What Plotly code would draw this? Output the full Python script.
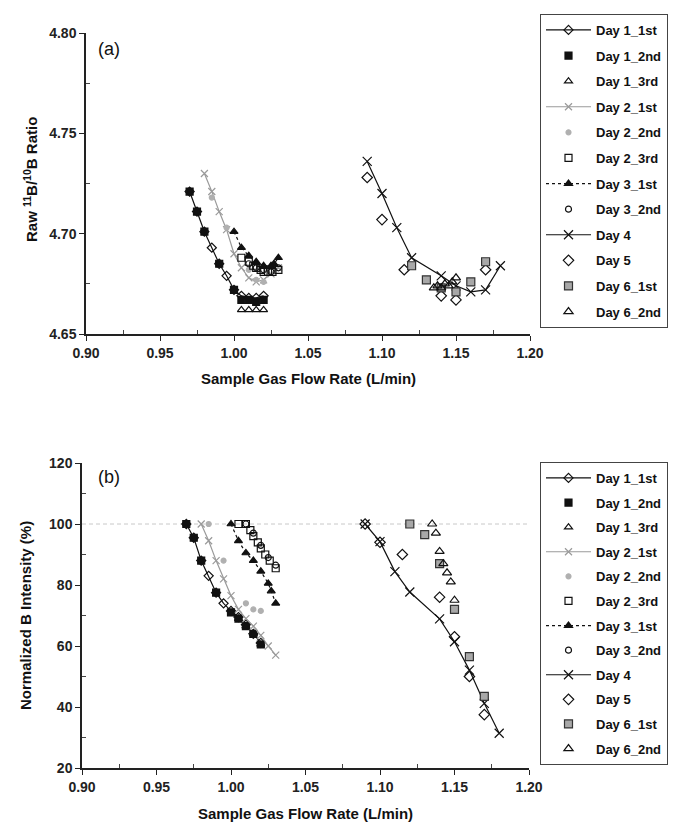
import plotly.graph_objects as go

W, H = 673, 836

SERIES = ["Day 1_1st", "Day 1_2nd", "Day 1_3rd", "Day 2_1st", "Day 2_2nd", "Day 2_3rd",
          "Day 3_1st", "Day 3_2nd", "Day 4", "Day 5", "Day 6_1st", "Day 6_2nd"]

X_TICKS = [0.90, 0.95, 1.00, 1.05, 1.10, 1.15, 1.20]
A_Y_TICKS = [4.65, 4.70, 4.75, 4.80]
B_Y_TICKS = [20, 40, 60, 80, 100, 120]

# ---------- Panel (a): Raw 11B/10B ratio ----------
a_d1_1st_x = [0.97, 0.975, 0.98, 0.985, 0.99, 0.995, 1.00, 1.005, 1.01, 1.015, 1.02]
a_d1_1st_y = [4.721, 4.711, 4.701, 4.693, 4.685, 4.679, 4.672, 4.669, 4.668, 4.668, 4.669]
a_d1_2nd_x = [0.97, 0.975, 0.98, 0.99, 1.00, 1.005, 1.01, 1.015, 1.02]
a_d1_2nd_y = [4.721, 4.711, 4.701, 4.685, 4.672, 4.667, 4.667, 4.666, 4.667]
a_d1_3rd_x = [1.005, 1.01, 1.015, 1.02]
a_d1_3rd_y = [4.662, 4.662, 4.662, 4.662]
a_d2_1st_x = [0.98, 0.985, 0.99, 0.995, 1.00, 1.005, 1.01, 1.015, 1.02, 1.025, 1.03]
a_d2_1st_y = [4.730, 4.721, 4.711, 4.702, 4.690, 4.683, 4.678, 4.676, 4.677, 4.680, 4.683]
a_d2_2nd_x = [0.985, 0.995, 1.01, 1.015, 1.02]
a_d2_2nd_y = [4.718, 4.703, 4.682, 4.677, 4.676]
a_d2_3rd_x = [1.005, 1.01, 1.013, 1.015, 1.018, 1.02, 1.023, 1.026, 1.03]
a_d2_3rd_y = [4.688, 4.686, 4.684, 4.683, 4.682, 4.681, 4.681, 4.681, 4.682]
a_d3_1st_x = [1.00, 1.005, 1.01, 1.015, 1.02, 1.025, 1.027, 1.03]
a_d3_1st_y = [4.701, 4.693, 4.689, 4.686, 4.684, 4.684, 4.685, 4.688]
a_d3_2nd_x = [1.01, 1.015, 1.02, 1.025, 1.03]
a_d3_2nd_y = [4.685, 4.683, 4.682, 4.681, 4.683]
a_d4_x = [1.09, 1.10, 1.11, 1.12, 1.14, 1.15, 1.16, 1.17, 1.18]
a_d4_y = [4.736, 4.720, 4.703, 4.688, 4.679, 4.674, 4.671, 4.672, 4.684]
a_d5_x = [1.09, 1.10, 1.115, 1.14, 1.15, 1.17]
a_d5_y = [4.728, 4.707, 4.682, 4.669, 4.667, 4.682]
a_d6_1st_x = [1.12, 1.13, 1.14, 1.15, 1.16, 1.17]
a_d6_1st_y = [4.684, 4.677, 4.673, 4.671, 4.676, 4.686]
a_d6_2nd_x = [1.135, 1.1375, 1.14, 1.1425, 1.145, 1.1475, 1.15]
a_d6_2nd_y = [4.673, 4.674, 4.673, 4.675, 4.674, 4.676, 4.678]

# ---------- Panel (b): Normalized B intensity (%) ----------
b_d1_1st_x = [0.97, 0.975, 0.98, 0.985, 0.99, 0.995, 1.00, 1.005, 1.01, 1.015, 1.02]
b_d1_1st_y = [100, 95.5, 88, 83, 77.5, 74, 71.5, 69.5, 67, 64, 61]
b_d1_2nd_x = [0.97, 0.975, 0.98, 0.99, 1.00, 1.005, 1.01, 1.015, 1.02]
b_d1_2nd_y = [100, 95.5, 88, 77.5, 71, 69, 66.5, 64, 60.5]
b_d1_3rd_x = [1.005, 1.01, 1.015, 1.02]
b_d1_3rd_y = [69, 66.5, 64, 60.5]
b_d2_1st_x = [0.98, 0.985, 0.99, 0.995, 1.00, 1.005, 1.01, 1.015, 1.02, 1.025, 1.03]
b_d2_1st_y = [100, 94.5, 88, 82, 76.5, 72, 69, 66.5, 63.5, 60, 57]
b_d2_2nd_x = [0.985, 0.995, 1.01, 1.015, 1.02]
b_d2_2nd_y = [100, 88, 74, 72, 71.5]
b_d2_3rd_x = [1.005, 1.01, 1.013, 1.015, 1.018, 1.02, 1.023, 1.026, 1.03]
b_d2_3rd_y = [100, 100, 98, 96, 94, 92, 90, 88, 85.5]
b_d3_1st_x = [1.00, 1.005, 1.01, 1.015, 1.02, 1.025, 1.027, 1.03]
b_d3_1st_y = [100, 94.5, 90.5, 88, 84.5, 80.5, 78, 74]
b_d3_2nd_x = [1.01, 1.015, 1.02, 1.025, 1.03]
b_d3_2nd_y = [100, 97, 93, 89, 86.5]
b_d4_x = [1.09, 1.10, 1.11, 1.12, 1.14, 1.15, 1.16, 1.17, 1.18]
b_d4_y = [100, 94.2, 84.4, 77.7, 68.9, 61.4, 52.1, 41.2, 31.4]
b_d5_x = [1.09, 1.10, 1.115, 1.14, 1.15, 1.16, 1.17]
b_d5_y = [100, 94, 90, 76, 63, 50, 37.5]
b_d6_1st_x = [1.12, 1.13, 1.14, 1.15, 1.16, 1.17]
b_d6_1st_y = [100, 96.5, 87, 72, 56.5, 43.5]
b_d6_2nd_x = [1.135, 1.1375, 1.14, 1.1425, 1.145, 1.1475, 1.15]
b_d6_2nd_y = [100, 97, 91, 87, 84, 81, 75]

A_DATA = [(a_d1_1st_x, a_d1_1st_y), (a_d1_2nd_x, a_d1_2nd_y), (a_d1_3rd_x, a_d1_3rd_y),
          (a_d2_1st_x, a_d2_1st_y), (a_d2_2nd_x, a_d2_2nd_y), (a_d2_3rd_x, a_d2_3rd_y),
          (a_d3_1st_x, a_d3_1st_y), (a_d3_2nd_x, a_d3_2nd_y), (a_d4_x, a_d4_y),
          (a_d5_x, a_d5_y), (a_d6_1st_x, a_d6_1st_y), (a_d6_2nd_x, a_d6_2nd_y)]
B_DATA = [(b_d1_1st_x, b_d1_1st_y), (b_d1_2nd_x, b_d1_2nd_y), (b_d1_3rd_x, b_d1_3rd_y),
          (b_d2_1st_x, b_d2_1st_y), (b_d2_2nd_x, b_d2_2nd_y), (b_d2_3rd_x, b_d2_3rd_y),
          (b_d3_1st_x, b_d3_1st_y), (b_d3_2nd_x, b_d3_2nd_y), (b_d4_x, b_d4_y),
          (b_d5_x, b_d5_y), (b_d6_1st_x, b_d6_1st_y), (b_d6_2nd_x, b_d6_2nd_y)]

BLACK = "#111111"
GRAY = "#9a9a9a"
# style per series: (mode, symbol, size, marker fill, marker line color, line color, dash)
STYLES = [
    ("lines+markers", "diamond-open", 7, BLACK, BLACK, BLACK, "solid"),
    ("markers", "square", 7, BLACK, BLACK, None, None),
    ("markers", "triangle-up-open", 7, BLACK, BLACK, None, None),
    ("lines+markers", "x-thin-open", 7, GRAY, GRAY, GRAY, "solid"),
    ("markers", "circle", 5, "#b0b0b0", "#b0b0b0", None, None),
    ("markers", "square-open", 7, BLACK, BLACK, None, None),
    ("lines+markers", "triangle-up", 7, BLACK, BLACK, BLACK, "dot"),
    ("markers", "circle-open", 6, BLACK, BLACK, None, None),
    ("lines+markers", "x-thin-open", 9, BLACK, BLACK, BLACK, "solid"),
    ("markers", "diamond-open", 8, BLACK, BLACK, None, None),
    ("markers", "square", 8, "#a8a8a8", "#333333", None, None),
    ("markers", "triangle-up-open", 8, BLACK, BLACK, None, None),
]

FONT = "Arial, Liberation Sans, sans-serif"

fig = go.Figure()


def add_panel(data, xaxis, yaxis, legend, tag):
    for i, (name, (xs, ys), st) in enumerate(zip(SERIES, data, STYLES)):
        mode, sym, size, fill, mline, lcolor, dash = st
        marker = dict(symbol=sym, size=size, color=fill,
                      line=dict(color=mline, width=1.2))
        kw = {}
        if lcolor is not None:
            kw["line"] = dict(color=lcolor, width=1.2, dash=dash)
        fig.add_trace(go.Scatter(x=xs, y=ys, name=name, mode=mode, marker=marker,
                                 xaxis=xaxis, yaxis=yaxis, legend=legend,
                                 legendgroup=f"{tag}{i}", **kw))


add_panel(A_DATA, "x", "y", "legend", "a")
add_panel(B_DATA, "x2", "y2", "legend2", "b")


def px_x(p):
    return p / W


def px_y(p):
    return 1 - p / H


axis_common = dict(showline=True, linecolor="#222", linewidth=1.5, ticks="outside",
                   ticklen=5, tickwidth=1.2, tickcolor="#222", showgrid=False,
                   zeroline=False, mirror=False,
                   tickfont=dict(family=FONT, size=14, color="#222", weight="bold"),
                   minor=dict(ticks="inside", ticklen=4, tickwidth=1, tickcolor="#444",
                              showgrid=False))

fig.update_layout(
    width=W, height=H, margin=dict(l=0, r=0, t=0, b=0, autoexpand=False),
    paper_bgcolor="white", plot_bgcolor="white", showlegend=True,
    xaxis=dict(domain=[px_x(86), px_x(530)], range=[0.90, 1.20], anchor="y",
               tickvals=X_TICKS, tickformat=".2f", **axis_common),
    yaxis=dict(domain=[px_y(334), px_y(33)], range=[4.65, 4.80], anchor="x",
               tickvals=A_Y_TICKS, tickformat=".2f", **axis_common),
    xaxis2=dict(domain=[px_x(82), px_x(529)], range=[0.90, 1.20], anchor="y2",
                tickvals=X_TICKS, tickformat=".2f", **axis_common),
    yaxis2=dict(domain=[px_y(768), px_y(463)], range=[20, 120], anchor="x2",
                tickvals=B_Y_TICKS, **axis_common),
)
fig.update_xaxes(minor=dict(tickvals=[0.925, 0.975, 1.025, 1.075, 1.125, 1.175]))
fig.layout.yaxis.minor.tickvals = [4.675, 4.725, 4.775]
fig.layout.yaxis2.minor.tickvals = [30, 50, 70, 90, 110]

legend_common = dict(xanchor="left", yanchor="top", bgcolor="white",
                     bordercolor="#444", borderwidth=1,
                     font=dict(family=FONT, size=13, color="#111", weight="bold"),
                     itemsizing="trace", itemwidth=45)
fig.update_layout(
    legend=dict(x=px_x(540), y=px_y(14), tracegroupgap=5.7, **legend_common),
    legend2=dict(x=px_x(540), y=px_y(462), tracegroupgap=4.7, **legend_common),
)

# Reference line at 100 % in panel (b)
fig.add_shape(type="line", xref="x2", yref="y2", x0=0.90, x1=1.20, y0=100, y1=100,
              line=dict(color="#c8c8c8", width=1, dash="4px,3px"), layer="below")

title_font = dict(family=FONT, size=15, color="#111", weight="bold")
ann = [
    dict(text="(a)", x=px_x(96), y=px_y(49), xanchor="left", yanchor="middle",
         font=dict(family=FONT, size=18, color="#111")),
    dict(text="(b)", x=px_x(96), y=px_y(477), xanchor="left", yanchor="middle",
         font=dict(family=FONT, size=18, color="#111")),
    dict(text="Sample Gas Flow Rate (L/min)", x=px_x(308), y=px_y(378),
         xanchor="center", yanchor="middle", font=title_font),
    dict(text="Sample Gas Flow Rate (L/min)", x=px_x(305), y=px_y(813),
         xanchor="center", yanchor="middle", font=title_font),
    dict(text="Raw <sup>11</sup>B/<sup>10</sup>B Ratio", x=px_x(30), y=px_y(180),
         xanchor="center", yanchor="middle", textangle=-90, font=title_font),
    dict(text="Normalized B Intensity (%)", x=px_x(25), y=px_y(616),
         xanchor="center", yanchor="middle", textangle=-90, font=title_font),
]
for a in ann:
    fig.add_annotation(xref="paper", yref="paper", showarrow=False, **a)

fig.write_html("out.html")
